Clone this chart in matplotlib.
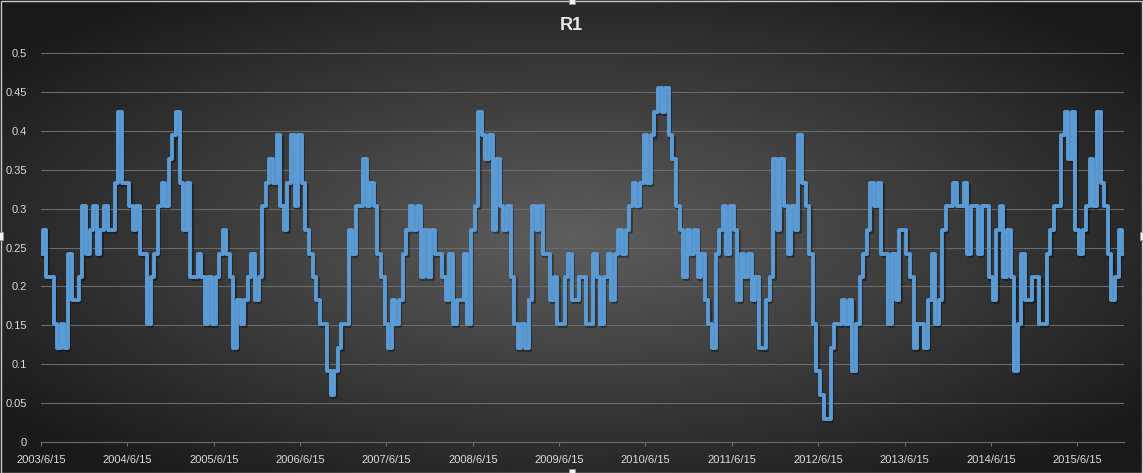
import numpy as np
import pandas as pd
import matplotlib
matplotlib.use("Agg")
import matplotlib.pyplot as plt
import matplotlib.patheffects as pe
from matplotlib.patches import Rectangle
from matplotlib.ticker import FuncFormatter

# semi-monthly samples, starting 2003/6/15
START = "2003-06-15"
R1 = [
    # 2003/6 - 2004/6
    0.242, 0.273, 0.212, 0.212, 0.152, 0.121, 0.152, 0.121, 0.242, 0.182, 0.182, 0.212,
    0.303, 0.242, 0.273, 0.303, 0.242, 0.273, 0.303, 0.273, 0.273, 0.333, 0.424, 0.333,
    # 2004/6 - 2005/6
    0.333, 0.303, 0.273, 0.303, 0.242, 0.242, 0.152, 0.212, 0.242, 0.303, 0.333, 0.303,
    0.364, 0.394, 0.424, 0.333, 0.273, 0.333, 0.212, 0.212, 0.242, 0.212, 0.152, 0.212,
    # 2005/6 - 2006/6
    0.152, 0.212, 0.242, 0.273, 0.242, 0.212, 0.121, 0.182, 0.152, 0.182, 0.212, 0.242,
    0.182, 0.212, 0.303, 0.333, 0.364, 0.333, 0.394, 0.303, 0.273, 0.333, 0.394, 0.303,
    # 2006/6 - 2007/6
    0.394, 0.333, 0.273, 0.242, 0.212, 0.182, 0.152, 0.152, 0.091, 0.061, 0.091, 0.121,
    0.152, 0.152, 0.273, 0.242, 0.303, 0.303, 0.364, 0.303, 0.333, 0.303, 0.242, 0.212,
    # 2007/6 - 2008/6
    0.152, 0.121, 0.182, 0.152, 0.182, 0.242, 0.273, 0.303, 0.273, 0.303, 0.212, 0.273,
    0.212, 0.273, 0.242, 0.242, 0.212, 0.182, 0.242, 0.152, 0.182, 0.182, 0.242, 0.152,
    # 2008/6 - 2009/6
    0.273, 0.303, 0.424, 0.394, 0.364, 0.394, 0.273, 0.364, 0.303, 0.273, 0.303, 0.212,
    0.152, 0.121, 0.152, 0.121, 0.182, 0.303, 0.273, 0.303, 0.242, 0.242, 0.182, 0.212,
    # 2009/6 - 2010/6
    0.152, 0.152, 0.212, 0.242, 0.182, 0.182, 0.212, 0.212, 0.152, 0.152, 0.242, 0.212,
    0.152, 0.212, 0.242, 0.182, 0.242, 0.273, 0.242, 0.273, 0.303, 0.333, 0.303, 0.333,
    # 2010/6 - 2011/6
    0.394, 0.333, 0.394, 0.424, 0.455, 0.424, 0.455, 0.394, 0.364, 0.303, 0.273, 0.212,
    0.273, 0.242, 0.273, 0.212, 0.242, 0.182, 0.152, 0.121, 0.242, 0.273, 0.303, 0.242,
    # 2011/6 - 2012/6
    0.303, 0.273, 0.182, 0.242, 0.212, 0.242, 0.182, 0.212, 0.121, 0.121, 0.182, 0.212,
    0.364, 0.273, 0.364, 0.303, 0.242, 0.303, 0.273, 0.394, 0.333, 0.303, 0.242, 0.152,
    # 2012/6 - 2013/6
    0.091, 0.061, 0.030, 0.030, 0.121, 0.152, 0.152, 0.182, 0.152, 0.182, 0.091, 0.152,
    0.212, 0.242, 0.273, 0.333, 0.303, 0.333, 0.242, 0.242, 0.152, 0.242, 0.182, 0.273,
    # 2013/6 - 2014/6
    0.273, 0.242, 0.212, 0.121, 0.152, 0.152, 0.121, 0.182, 0.242, 0.152, 0.182, 0.273,
    0.303, 0.303, 0.333, 0.303, 0.303, 0.333, 0.242, 0.303, 0.303, 0.242, 0.303, 0.303,
    # 2014/6 - 2015/6
    0.212, 0.182, 0.273, 0.303, 0.212, 0.273, 0.212, 0.091, 0.152, 0.242, 0.182, 0.182,
    0.212, 0.212, 0.152, 0.152, 0.242, 0.273, 0.303, 0.303, 0.394, 0.424, 0.364, 0.424,
    # 2015/6 -
    0.273, 0.242, 0.273, 0.303, 0.364, 0.303, 0.424, 0.333, 0.303, 0.242, 0.182, 0.212,
    0.273, 0.242,
]
Y_TICKS = [0, 0.05, 0.1, 0.15, 0.2, 0.25, 0.3, 0.35, 0.4, 0.45, 0.5]
TITLE = "R1"

dates = pd.date_range(START, periods=len(R1), freq="SMS")
tick_idx = [i for i, d in enumerate(dates) if d.month == 6 and d.day == 15]
tick_lab = [f"{dates[i].year}/{dates[i].month}/{dates[i].day}" for i in tick_idx]

W, H = 1143, 473
fig = plt.figure(figsize=(W / 100, H / 100), dpi=100)

# radial background, light centre fading to near black
bg = fig.add_axes([0, 0, 1, 1], zorder=0)
bg.axis("off")
yy, xx = np.mgrid[0:H, 0:W]
r = np.sqrt(((xx - W * 0.5) / (W * 0.5)) ** 2 + ((yy - H * 0.5) / (H * 0.5)) ** 2)
t = np.clip(r / 1.25, 0, 1)
shade = (0x5e + (0x1a - 0x5e) * t) / 255.0
bg.imshow(np.dstack([shade, shade, shade]), aspect="auto", extent=[0, 1, 0, 1])
bg.set_xlim(0, 1); bg.set_ylim(0, 1)

ax = fig.add_axes([41 / W, 31 / H, 1083 / W, 389 / H], zorder=1)
ax.patch.set_alpha(0)
x = np.arange(len(R1))
ax.plot(x, R1, color="#5b9bd5", lw=2.8, drawstyle="steps-mid",
        solid_joinstyle="round", solid_capstyle="round",
        path_effects=[pe.SimpleLineShadow(offset=(1, -1.5), shadow_color="black", alpha=0.35),
                      pe.Normal()], zorder=3)

ax.set_xlim(0, len(R1) - 1)
ax.set_ylim(0, 0.5)
ax.set_yticks(Y_TICKS)
ax.yaxis.set_major_formatter(FuncFormatter(lambda v, p: f"{v:g}"))
ax.set_xticks(tick_idx)
ax.set_xticklabels(tick_lab)
ax.grid(axis="y", color="#6a6a6a", lw=0.8, zorder=1)
for s in ["top", "right", "left"]:
    ax.spines[s].set_visible(False)
ax.spines["bottom"].set_color("#6a6a6a")
ax.spines["bottom"].set_linewidth(0.8)
ax.tick_params(axis="y", length=0, pad=10, labelsize=8, labelcolor="#d9d9d9")
ax.tick_params(axis="x", length=3, color="#6a6a6a", pad=6, labelsize=8, labelcolor="#d9d9d9")
for lab in ax.get_xticklabels() + ax.get_yticklabels():
    lab.set_family("Liberation Sans")

fig.text(0.5, 1 - 25 / H, TITLE, ha="center", va="center", fontsize=13, weight="bold",
         color="#e8e8e8", family="Liberation Sans")

# chart frame and selection handles
fig.patches.append(Rectangle((0.5 / W, 0.5 / H), 1 - 2 / W, 1 - 2 / H, transform=fig.transFigure,
                             fill=False, edgecolor="#c8c8c8", lw=1, zorder=5))
for hx, hy in [(0, 0.5), (1, 0.5), (0.5, 0), (0.5, 1)]:
    fig.patches.append(Rectangle((hx - 3 / W, hy - 4 / H), 6 / W, 8 / H, transform=fig.transFigure,
                                 facecolor="#f2f2f2", edgecolor="#9a9a9a", lw=0.6, zorder=6))

fig.savefig("out.png", dpi=100)
